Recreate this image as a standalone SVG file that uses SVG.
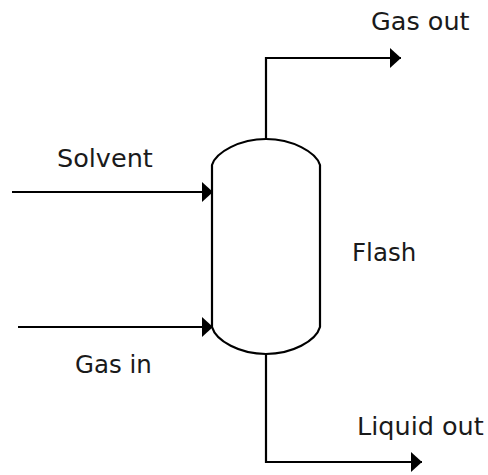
<svg xmlns="http://www.w3.org/2000/svg" width="488" height="475" viewBox="0 0 488 475">
<style>
.l{fill:none;stroke:#000;stroke-width:2.2}
.v{fill:#fff;stroke:#000;stroke-width:2.2}
text{font-family:"DejaVu Sans",sans-serif;font-size:25.5px;fill:#1a1a1a}
#flash text{font-size:24.5px}
</style>
<defs><marker id="a" markerUnits="userSpaceOnUse" markerWidth="11" markerHeight="20" refX="11" refY="10" orient="auto"><path d="M0 0L11 10L0 20Z" fill="#000"/></marker></defs>
<rect width="488" height="475" fill="#fff"/>
<g id="flash"><path class="v" d="M212 165C216 152 240 139 266 139C292 139 316 152 320 165V327C316 341 292 354 266 354C240 354 216 341 212 327Z"/><text x="352" y="261">Flash</text></g>
<g id="connectors">
<path class="l" marker-end="url(#a)" d="M266 138V58H401"/>
<path class="l" marker-end="url(#a)" d="M12 192H213"/>
<path class="l" marker-end="url(#a)" d="M18 327H213"/>
<path class="l" marker-end="url(#a)" d="M266 354V462H422"/>
</g>
<g id="gas-out"><text x="371" y="30">Gas out</text></g>
<g id="solvent"><text x="57" y="167">Solvent</text></g>
<g id="gas-in"><text x="75" y="373" style="font-size:24.500px">Gas in</text></g>
<g id="liquid-out"><text x="357" y="435">Liquid out</text></g>
</svg>
